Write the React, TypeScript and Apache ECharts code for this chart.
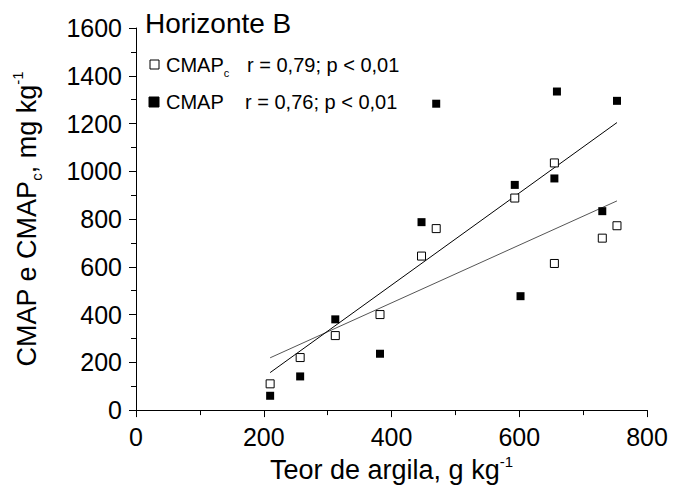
import React, { useEffect, useRef } from "react";
import * as echarts from "echarts";

// CMAPc (open squares)
const clayOpen = [210, 257, 312, 382, 447, 470, 593, 655, 655, 730, 753];
const cmapcValues = [110, 220, 312, 400, 645, 760, 888, 614, 1035, 720, 772];
// CMAP (filled squares)
const clayFilled = [210, 257, 312, 382, 447, 470, 593, 602, 655, 659, 730, 753];
const cmapValues = [60, 141, 380, 236, 787, 1283, 943, 477, 970, 1334, 833, 1295];
// regression line endpoints
const fitCmapc = [[210, 219], [753, 876]];
const fitCmap = [[210, 157], [753, 1204]];

const xTicks = [0, 200, 400, 600, 800];
const yTicks = [0, 200, 400, 600, 800, 1000, 1200, 1400, 1600];

const FONT = "Liberation Sans, Arial, Helvetica, sans-serif";

export default function App() {
  const ref = useRef<HTMLDivElement>(null);
  useEffect(() => {
    if (!ref.current) return;
    const chart = echarts.init(ref.current, undefined, { renderer: "svg" });
    const openData = clayOpen.map((x, i) => [x, cmapcValues[i]]);
    const filledData = clayFilled.map((x, i) => [x, cmapValues[i]]);
    const axisCommon = {
      axisLine: { show: true, lineStyle: { color: "#000", width: 1 } },
      axisTick: { show: true, inside: false, length: 7, lineStyle: { color: "#000", width: 1 } },
      minorTick: { show: true, splitNumber: 2, length: 5, lineStyle: { color: "#000", width: 1 } },
      splitLine: { show: false },
      minorSplitLine: { show: false },
    };
    const plain = (v: number) => String(v);
    chart.setOption({
      animation: false,
      backgroundColor: "#fff",
      textStyle: { fontFamily: FONT },
      grid: { left: 136, right: 35, top: 28, bottom: 78, containLabel: false },
      xAxis: {
        type: "value",
        min: xTicks[0],
        max: xTicks[xTicks.length - 1],
        interval: 200,
        ...axisCommon,
        axisLabel: { fontSize: 25, color: "#000", margin: 14, fontFamily: FONT, formatter: plain },
        name: "Teor de argila, g kg{sup|-1}",
        nameLocation: "middle",
        nameGap: 42,
        nameTextStyle: {
          fontSize: 27,
          color: "#000",
          fontFamily: FONT,
          lineHeight: 32,
          rich: {
            sup: { fontSize: 15, verticalAlign: "top", color: "#000", fontFamily: FONT, lineHeight: 15 },
          },
        },
      },
      yAxis: {
        type: "value",
        min: yTicks[0],
        max: yTicks[yTicks.length - 1],
        interval: 200,
        ...axisCommon,
        axisLabel: { fontSize: 25, color: "#000", margin: 14, fontFamily: FONT, formatter: plain },
        name: "CMAP e CMAP{sub|c}, mg kg{sup|-1}",
        nameLocation: "middle",
        nameGap: 92,
        nameTextStyle: {
          fontSize: 27,
          color: "#000",
          fontFamily: FONT,
          lineHeight: 34,
          rich: {
            sup: { fontSize: 15, verticalAlign: "top", color: "#000", fontFamily: FONT, lineHeight: 15 },
            sub: { fontSize: 15, verticalAlign: "bottom", color: "#000", fontFamily: FONT, lineHeight: 15 },
          },
        },
      },
      series: [
        {
          name: "CMAPc",
          type: "scatter",
          data: openData,
          symbol: "rect",
          symbolSize: 8,
          itemStyle: { color: "#fff", borderColor: "#000", borderWidth: 1, opacity: 1 },
          z: 3,
        },
        {
          name: "CMAP",
          type: "scatter",
          data: filledData,
          symbol: "rect",
          symbolSize: 8,
          itemStyle: { color: "#000", opacity: 1 },
          z: 3,
        },
        {
          type: "line",
          data: fitCmapc,
          symbol: "none",
          lineStyle: { color: "#555", width: 1 },
          z: 2,
        },
        {
          type: "line",
          data: fitCmap,
          symbol: "none",
          lineStyle: { color: "#000", width: 1 },
          z: 2,
        },
      ],
      graphic: [
        {
          type: "text",
          x: 145,
          y: 23,
          style: { text: "Horizonte B", fontSize: 28, fontFamily: FONT, fill: "#000", verticalAlign: "middle" },
        },
        {
          type: "rect",
          shape: { x: 150, y: 60, width: 9, height: 9 },
          style: { fill: "#fff", stroke: "#000", lineWidth: 1 },
        },
        {
          type: "text",
          x: 166,
          y: 65,
          style: {
            text: "CMAP{sub|c}",
            fontSize: 20,
            fontFamily: FONT,
            fill: "#000",
            verticalAlign: "middle",
            lineHeight: 26,
            rich: { sub: { fontSize: 11, verticalAlign: "bottom", fontFamily: FONT, lineHeight: 11 } },
          },
        },
        {
          type: "text",
          x: 247,
          y: 65,
          style: { text: "r = 0,79; p < 0,01", fontSize: 20, fontFamily: FONT, fill: "#000", verticalAlign: "middle" },
        },
        {
          type: "rect",
          shape: { x: 149, y: 97, width: 10, height: 10 },
          style: { fill: "#000", stroke: "#000", lineWidth: 1 },
        },
        {
          type: "text",
          x: 166,
          y: 102,
          style: { text: "CMAP", fontSize: 20, fontFamily: FONT, fill: "#000", verticalAlign: "middle" },
        },
        {
          type: "text",
          x: 245,
          y: 102,
          style: { text: "r = 0,76; p < 0,01", fontSize: 20, fontFamily: FONT, fill: "#000", verticalAlign: "middle" },
        },
      ],
    });
    return () => chart.dispose();
  }, []);
  return <div ref={ref} style={{ width: 682, height: 491, position: "absolute", left: 0, top: 0 }} />;
}
